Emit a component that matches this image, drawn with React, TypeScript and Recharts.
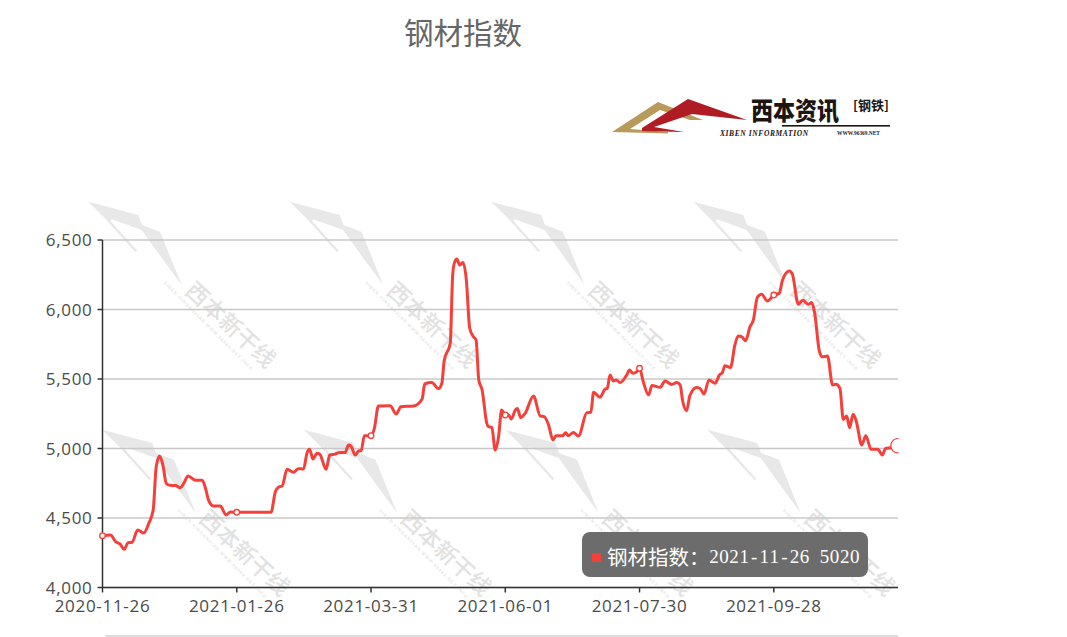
import React from "react";
import { LineChart, Line, XAxis, YAxis, CartesianGrid } from "recharts";

const sessionIndex = [
  0, 2.4, 3.9, 5.2, 6.5, 7.6, 8.8, 10.5, 12.3, 13.8, 15.1, 16, 17, 18, 19, 20, 21.7, 23.2, 24.2, 25.5, 27.7, 29.7, 30.7, 31.6, 33.1, 35.1, 36.8, 38.1, 40,
  50.2, 51.5, 52.5, 53.5, 55, 56.9, 58.4, 59.9, 60.9, 61.7, 62.7, 63.9, 64.7, 66.6, 67.7, 69.3, 70.3, 72.3, 73.3, 74, 75.3, 76.3, 77.1, 78, 80, 81,
  82.2, 85.7, 87.5, 88.9, 92.7, 95.2, 96, 98.1, 100.1, 101.1, 101.8, 103.6, 104.3, 104.8, 105.6, 106.4, 107.4, 108.4, 109.4, 110.5, 111.3, 112.1, 113.1, 114.5, 115, 116, 117, 118, 118.9,
  120, 121, 121.8, 123, 123.6, 124.6, 125.9, 128.4, 130.4, 131.6, 132.9, 134.2, 135.1, 137.1, 138, 138.8, 140.3, 141.8, 144.3, 145.5, 146.3, 148.2, 149.7, 150.4, 151.2, 152.2, 153, 154.2, 156.2, 157, 158, 159.2,
  160, 161.1, 162.7, 163.7, 166.1, 167.6, 169.6, 171.1, 172.1, 172.8, 174, 175, 177, 178, 179.2, 180.7, 182.5, 183.8, 184.7, 185.4, 187.1, 188.4, 189.4, 190.4, 191.6, 192.9, 193.9, 195.1, 196.4, 198.1,
  200, 201.6, 202.6, 204.6, 205.5, 207.3, 208.6, 210.2, 211.3, 212.2, 213.5, 214.4, 216, 217.5, 218.5, 219.7, 220.7, 221.7, 222.6, 223.6, 224.6, 226.2, 227.4, 229, 231, 232.3, 233.3, 234.8, 237,
];
const indexValues = [
  4373, 4378, 4330, 4313, 4275, 4322, 4325, 4414, 4392, 4462, 4557, 4869, 4946, 4881, 4749, 4735, 4733, 4718, 4749, 4802, 4771, 4771, 4713, 4629, 4586, 4586, 4522, 4543, 4541,
  4541, 4689, 4723, 4730, 4850, 4829, 4855, 4852, 4965, 4994, 4924, 4965, 4960, 4850, 4953, 4960, 4970, 4972, 5025, 5018, 4953, 4982, 4985, 5092, 5092, 5145,
  5305, 5308, 5248, 5301, 5306, 5354, 5464, 5474, 5431, 5469, 5632, 5757, 6236, 6332, 6363, 6320, 6339, 6212, 5865, 5805, 5781, 5493, 5421, 5181, 5157, 5152, 4989, 5085, 5277,
  5241, 5241, 5212, 5277, 5287, 5222, 5253, 5378, 5234, 5229, 5169, 5061, 5092, 5092, 5114, 5092, 5116, 5090, 5258, 5260, 5404, 5368, 5426, 5433, 5529, 5486, 5493, 5474, 5529, 5565, 5541, 5553,
  5577, 5481, 5385, 5454, 5440, 5485, 5461, 5474, 5457, 5349, 5272, 5380, 5438, 5433, 5392, 5493, 5469, 5529, 5546, 5596, 5582, 5745, 5810, 5805, 5776, 5876, 5924, 6087, 6109, 6061,
  6104, 6116, 6212, 6277, 6256, 6038, 6066, 6038, 6050, 5972, 5708, 5660, 5665, 5457, 5462, 5433, 5209, 5233, 5150, 5246, 5193, 5025, 5092, 4994, 4994, 4953, 5001, 5006, 5020,
];
const tickSessions = [0, 40, 80, 120, 160, 200];
const tickDates = ["2020-11-26", "2021-01-26", "2021-03-31", "2021-06-01", "2021-07-30", "2021-09-28"];
const yTicks = [4000, 4500, 5000, 5500, 6000, 6500];
const seriesName = "钢材指数";
const lastDate = "2021-11-26";
const lastValue = 5020;

const chartData = sessionIndex.map((x, i) => ({ x, y: indexValues[i] }));
const RED = "#f4403a";
const AXIS = "#333";
const LABEL = "#4a4a4a";
const CJK = "'Noto Sans CJK SC', sans-serif";

const Dot = (props: any) => {
  const { cx, cy, payload } = props;
  const key = `d${payload.x}`;
  if (payload.x === sessionIndex[sessionIndex.length - 1]) {
    return (
      <g key={key}>
        <clipPath id="endclip">
          <rect x={cx - 9} y={cy - 9} width={9.5} height={18} />
        </clipPath>
        <circle cx={cx} cy={cy} r={7.2} fill="#fff" stroke={RED} strokeWidth={1.2} clipPath="url(#endclip)" />
      </g>
    );
  }
  if (tickSessions.includes(payload.x)) {
    return <circle key={key} cx={cx} cy={cy} r={2.8} fill="#fff" stroke={RED} strokeWidth={1.3} />;
  }
  return <g key={key} />;
};

const Tile = ({ dx, dy }: { dx: number; dy: number }) => (
  <g transform={`translate(${80 + dx},${190 + dy}) scale(0.3333)`}>
    <polygon
      points="25,35 175,75 186,105 240,125 305,285 235,190 185,120 95,88 92,94 172,182 166,186 70,80"
      fill="#e8e8e8"
    />
    <text
      x={455}
      y={402}
      transform="rotate(43 455 402)"
      textAnchor="middle"
      dominantBaseline="central"
      fontFamily={CJK}
      fontWeight={500}
      fontSize={68}
      fill="#e2e2e2"
    >
      西本新干线
    </text>
    <text
      x={385}
      y={408}
      transform="rotate(45 385 408)"
      textAnchor="middle"
      dominantBaseline="central"
      fontFamily="'Liberation Sans', sans-serif"
      fontWeight={700}
      fontSize={13}
      letterSpacing={3}
      fill="#e6e6e6"
    >
      XIBEN XINGANXIAN WWW.96369.NET INFO
    </text>
  </g>
);

const tileCols = [0, 201.5, 403, 605];

const Backdrop = () => (
  <svg width={1067} height={637} style={{ position: "absolute", left: 0, top: 0 }}>
    <defs>
      <clipPath id="wm">
        <rect x={0} y={190} width={898} height={447} />
      </clipPath>
    </defs>
    <g clipPath="url(#wm)">
      {tileCols.map((c) => (
        <Tile key={`a${c}`} dx={c} dy={0} />
      ))}
      {tileCols.map((c) => (
        <Tile key={`b${c}`} dx={c + 14} dy={228} />
      ))}
    </g>
    <text x={463} y={44} textAnchor="middle" fontFamily={CJK} fontSize={29.5} fill="#666">
      {seriesName}
    </text>
    <polygon points="612,132 658,102 703,120 690,120 660,110 630,129 668,132 668,133.5" fill="#b89a5a" />
    <polygon points="642,128 688,99 747,120 692,114 654,127 684,132 642,131" fill="#b01c24" />
    <g transform="translate(751,120) scale(1,1.15)">
      <text x={0} y={0} fontFamily={CJK} fontWeight={900} fontSize={22} fill="#1d1512">
        西本资讯
      </text>
    </g>
    <text x={853} y={110} fontFamily={CJK} fontWeight={700} fontSize={13} fill="#1d1512">
      [钢铁]
    </text>
    <rect x={782} y={125} width={108} height={1.6} fill="#1d1512" />
    <text x={720} y={135.5} fontFamily="'Liberation Serif', serif" fontWeight={700} fontStyle="italic" fontSize={7.5} letterSpacing={0.6} fill="#1d1512">
      XIBEN INFORMATION
    </text>
    <text x={837} y={135} fontFamily="'Liberation Serif', serif" fontWeight={700} fontSize={5.4} fill="#1d1512">
      WWW.96369.NET
    </text>
  </svg>
);

const Readout = () => (
  <div
    style={{
      position: "absolute",
      left: 582,
      top: 532,
      width: 286,
      height: 45,
      borderRadius: 8,
      background: "#6c6c6c",
      color: "#fff",
      display: "flex",
      alignItems: "center",
      whiteSpace: "nowrap",
    }}
  >
    <span style={{ display: "inline-block", width: 9, height: 9, background: RED, marginLeft: 10, marginRight: 6, marginTop: 6 }} />
    <span style={{ fontFamily: CJK, fontSize: 20.5, width: 102, position: "relative", top: 1 }}>{seriesName}：</span>
    <span style={{ fontFamily: "'Liberation Serif', serif", fontSize: 19, position: "relative", top: 2 }}>
      {`${lastDate} ${lastValue}`.split("").map((ch, i) => (
        <span key={i} style={{ display: "inline-block", width: 10.05, textAlign: "center" }}>
          {ch === " " ? "\u00a0" : ch}
        </span>
      ))}
    </span>
  </div>
);

export default function App() {
  const tickStyle = { fontFamily: "'Open Sans', sans-serif", fontSize: 17, fill: LABEL, letterSpacing: 0.7 };
  return (
    <div style={{ position: "absolute", left: 0, top: 0, width: 1067, height: 637, overflow: "hidden", background: "#fff" }}>
      <Backdrop />
      <div style={{ position: "absolute", left: 105, top: 635, width: 793, height: 2, background: "#dcdcdc" }} />
      <div style={{ position: "absolute", left: 0, top: 0 }}>
        <LineChart width={1067} height={637} data={chartData} margin={{ top: 240, left: 42.5, right: 169, bottom: 19.5 }}>
          <CartesianGrid horizontal vertical={false} stroke="#c8c8c8" strokeWidth={1.5} />
          <XAxis
            dataKey="x"
            type="number"
            domain={[0, 237]}
            ticks={tickSessions}
            interval={0}
            height={30}
            tickFormatter={(v: number) => tickDates[tickSessions.indexOf(v)] ?? ""}
            tick={tickStyle}
            tickSize={5}
            tickMargin={7}
            stroke={AXIS}
            strokeWidth={1.5}
          />
          <YAxis
            type="number"
            domain={[4000, 6500]}
            ticks={yTicks}
            interval={0}
            width={60}
            tickFormatter={(v: number) => v.toLocaleString("en-US")}
            tick={tickStyle}
            tickSize={5}
            tickMargin={5}
            stroke={AXIS}
            strokeWidth={1.5}
          />
          <Line
            dataKey="y"
            name={seriesName}
            type="monotone"
            stroke={RED}
            strokeWidth={3}
            dot={Dot}
            activeDot={false}
            isAnimationActive={false}
          />
        </LineChart>
      </div>
      <Readout />
    </div>
  );
}
